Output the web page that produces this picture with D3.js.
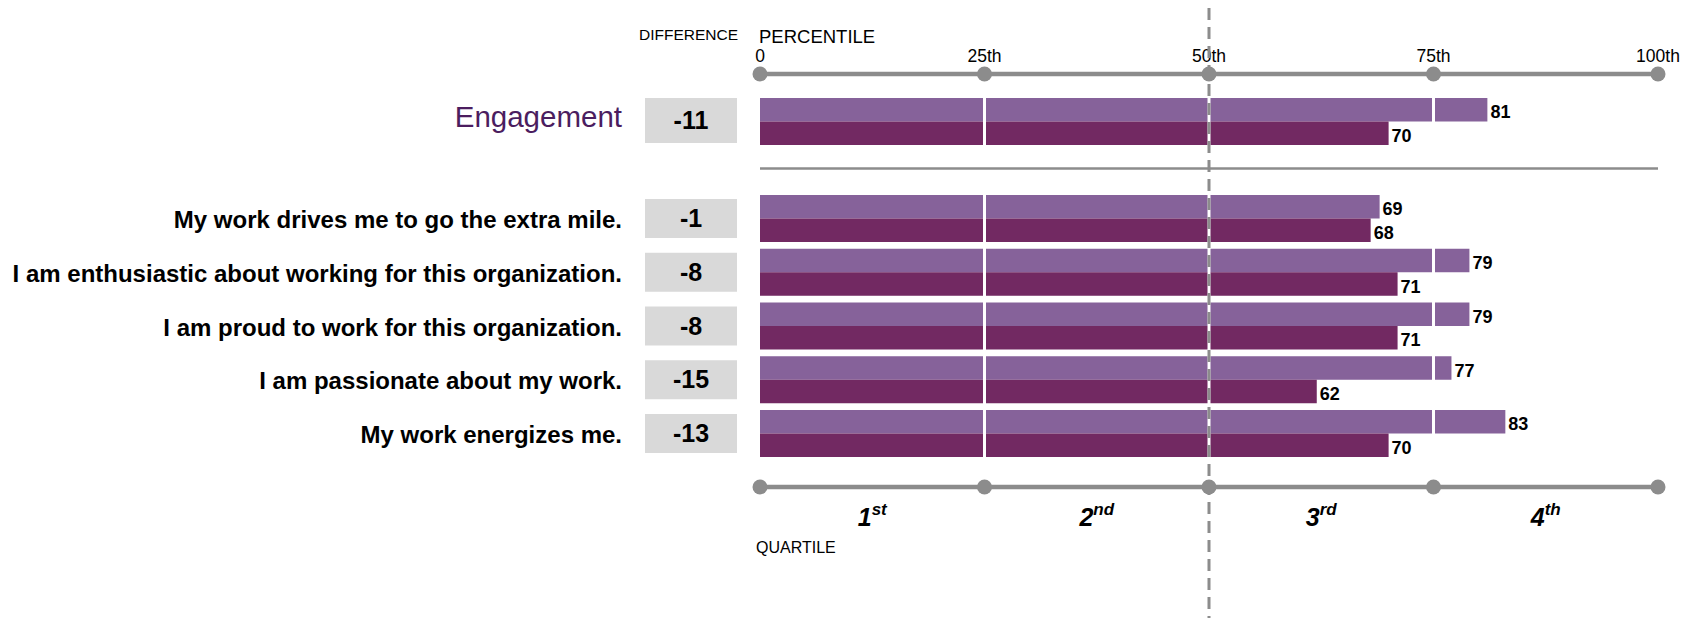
<!DOCTYPE html>
<html><head><meta charset="utf-8">
<script src="https://cdn.jsdelivr.net/npm/d3@7"></script>
<style>body{margin:0;background:#fff}svg{display:block}text{font-family:"Liberation Sans",Arial,sans-serif}</style>
</head><body><svg id="c" width="1683" height="618"></svg>
<script>
const summaryLabel = "Engagement";
const summaryBenchmark = 81;
const summaryScore = 70;
const summaryDiff = -11;
const items = ["My work drives me to go the extra mile.","I am enthusiastic about working for this organization.","I am proud to work for this organization.","I am passionate about my work.","My work energizes me."];
const benchmark = [69,79,79,77,83];
const score = [68,71,71,62,70];
const diffs = [-1,-8,-8,-15,-13];
const percentileTicks = [0,25,50,75,100];
const percentileLabels = ["0","25th","50th","75th","100th"];
const quartiles = [["1","st"],["2","nd"],["3","rd"],["4","th"]];

const svg = d3.select("#c");
const x = d3.scaleLinear().domain([0,100]).range([760,1658]);
const yItem = d3.scaleLinear().domain([0,4]).range([195,410]);
const barH = 23.5;
const light = "#86629a", dark = "#722962", grey = "#8c8c8c";

// top axis
svg.append("text").attr("x",639).attr("y",40).attr("font-size",15.5).text("DIFFERENCE");
svg.append("text").attr("x",759).attr("y",43).attr("font-size",18.5).text("PERCENTILE");
svg.append("line").attr("x1",x(0)).attr("x2",x(100)).attr("y1",74).attr("y2",74).attr("stroke",grey).attr("stroke-width",4.5);
svg.selectAll(".td").data(percentileTicks).join("circle").attr("cx",d=>x(d)).attr("cy",74).attr("r",7.5).attr("fill",grey);
svg.selectAll(".tl").data(percentileTicks).join("text").attr("x",d=>x(d)).attr("y",62).attr("text-anchor","middle").attr("font-size",17.5).text((d,i)=>percentileLabels[i]);

function drawBar(v, y0, color){
  for(let q=0;q<4;q++){
    const a=q*25, b=Math.min(v,(q+1)*25);
    if(b<=a) continue;
    const x0 = x(a) + (q>0?1.5:0);
    const x1 = x(b) - (b===(q+1)*25 && v>b ? 1.5 : 0);
    svg.append("rect").attr("x",x0).attr("y",y0).attr("width",x1-x0).attr("height",barH).attr("fill",color);
  }
  svg.append("text").attr("x",x(v)+3).attr("y",y0+barH/2+8.5).attr("font-size",18).attr("font-weight","bold").text(v);
}

// summary
const sy = 98;
drawBar(summaryBenchmark, sy, light);
drawBar(summaryScore, sy+barH, dark);
svg.append("text").attr("x",622).attr("y",127).attr("text-anchor","end").attr("font-size",29.5).attr("fill","#4b1d5f").text(summaryLabel);
svg.append("rect").attr("x",645).attr("y",sy).attr("width",92).attr("height",45).attr("fill","#d9d9d9");
svg.append("text").attr("x",691).attr("y",sy+31).attr("text-anchor","middle").attr("font-size",25).attr("font-weight","bold").text(summaryDiff);

svg.append("line").attr("x1",x(0)).attr("x2",x(100)).attr("y1",168.5).attr("y2",168.5).attr("stroke",grey).attr("stroke-width",2.5);

items.forEach((it,i)=>{
  const y0 = yItem(i);
  drawBar(benchmark[i], y0, light);
  drawBar(score[i], y0+barH, dark);
  svg.append("text").attr("x",622).attr("y",y0+barH+9.5).attr("text-anchor","end").attr("font-size",24).attr("font-weight","bold").text(it);
  svg.append("rect").attr("x",645).attr("y",y0+4).attr("width",92).attr("height",39).attr("fill","#d9d9d9");
  svg.append("text").attr("x",691).attr("y",y0+32).attr("text-anchor","middle").attr("font-size",25).attr("font-weight","bold").text(diffs[i]);
});

// bottom axis
svg.append("line").attr("x1",x(0)).attr("x2",x(100)).attr("y1",487).attr("y2",487).attr("stroke",grey).attr("stroke-width",4.5);
svg.selectAll(".bd").data(percentileTicks).join("circle").attr("cx",d=>x(d)).attr("cy",487).attr("r",7.5).attr("fill",grey);
quartiles.forEach((q,i)=>{
  const t = svg.append("text").attr("x",x(i*25+12.5)).attr("y",526).attr("text-anchor","middle").attr("font-size",25).attr("font-weight","bold").attr("font-style","italic");
  t.append("tspan").text(q[0]);
  t.append("tspan").attr("dy",-11).attr("font-size",17).text(q[1]);
});
svg.append("text").attr("x",756).attr("y",553).attr("font-size",16).text("QUARTILE");

// median dashed line
svg.append("line").attr("x1",x(50)).attr("x2",x(50)).attr("y1",8).attr("y2",618).attr("stroke",grey).attr("stroke-width",3).attr("stroke-dasharray","12,7");
</script></body></html>
